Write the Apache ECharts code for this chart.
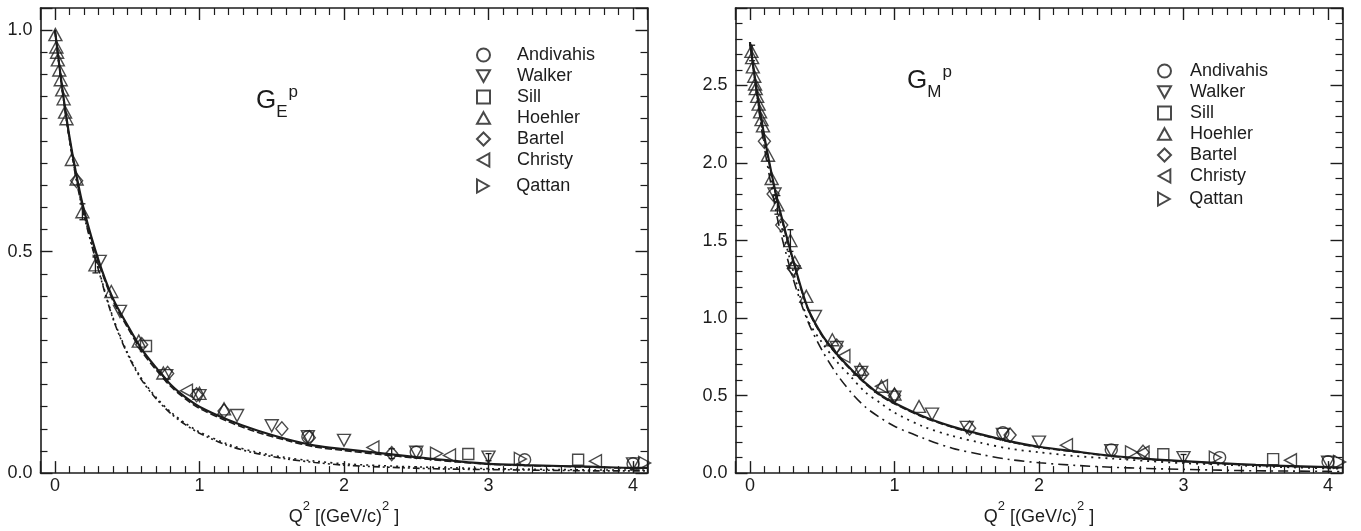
<!DOCTYPE html>
<html><head><meta charset="utf-8">
<script src="https://cdn.jsdelivr.net/npm/echarts@6/dist/echarts.min.js"></script>
<style>html,body{margin:0;padding:0;background:#fff}#c{width:1361px;height:531px}</style>
</head><body><div id="c"></div>
<script>
// ---------- data ----------
const seriesNames = ['Andivahis', 'Walker', 'Sill', 'Hoehler', 'Bartel', 'Christy', 'Qattan'];
const xTickLabels = ['0', '1', '2', '3', '4'];

// G_E^p data  [Q2, value]
const geAndivahis = [[1.75,0.082],[2.5,0.047],[3.25,0.030],[4.0,0.021]];
const geWalker = [[0.31,0.478],[0.45,0.365],[0.77,0.220],[1.0,0.175],[1.26,0.130],[1.5,0.107],[1.75,0.082],[2.0,0.074],[2.5,0.047],[3.0,0.036],[4.0,0.021]];
const geSill = [[0.63,0.287],[2.86,0.043],[3.62,0.030]];
const geHoehler = [[0.003,0.99],[0.01,0.962],[0.015,0.95],[0.02,0.933],[0.03,0.91],[0.04,0.888],[0.05,0.865],[0.06,0.845],[0.07,0.815],[0.08,0.80],[0.117,0.708],[0.15,0.664],[0.19,0.59],[0.28,0.47],[0.39,0.41],[0.58,0.298],[0.75,0.226],[1.0,0.180],[1.17,0.145]];
const geBartel = [[0.15,0.66],[0.6,0.29],[0.78,0.225],[0.98,0.177],[1.17,0.140],[1.57,0.100],[1.76,0.080],[2.33,0.044]];
const geChristy = [[0.91,0.186],[2.2,0.058],[2.73,0.040],[3.74,0.027]];
const geQattan = [[2.64,0.044],[3.22,0.032],[4.08,0.023]];
// visible error bars [Q2, low, high]
const geErrors = [[0.19,0.572,0.608],[0.28,0.452,0.488],[2.33,0.033,0.055],[3.0,0.028,0.044]];

// G_M^p data  [Q2, value]
const gmAndivahis = [[1.75,0.260],[2.5,0.150],[3.25,0.100],[4.0,0.073]];
const gmWalker = [[0.17,1.80],[0.30,1.30],[0.45,1.01],[0.60,0.81],[0.77,0.65],[1.0,0.49],[1.26,0.38],[1.5,0.295],[1.75,0.25],[2.0,0.20],[2.5,0.145],[3.0,0.10],[4.0,0.070]];
const gmSill = [[2.86,0.122],[3.62,0.090]];
const gmHoehler = [[0.01,2.72],[0.015,2.68],[0.02,2.62],[0.03,2.56],[0.035,2.51],[0.04,2.48],[0.05,2.43],[0.06,2.38],[0.07,2.33],[0.08,2.28],[0.09,2.24],[0.125,2.05],[0.15,1.90],[0.19,1.73],[0.28,1.50],[0.31,1.36],[0.39,1.14],[0.57,0.86],[0.76,0.67],[0.91,0.56],[1.0,0.51],[1.17,0.43]];
const gmBartel = [[0.10,2.14],[0.16,1.80],[0.22,1.60],[0.30,1.32],[0.60,0.82],[0.78,0.64],[1.0,0.50],[1.52,0.29],[1.80,0.245],[2.72,0.135]];
const gmChristy = [[0.65,0.755],[0.91,0.56],[2.19,0.18],[2.72,0.133],[3.74,0.083]];
const gmQattan = [[2.64,0.134],[3.22,0.100],[4.08,0.072]];
const gmErrors = [[0.015,2.66,2.76],[0.19,1.67,1.79],[0.28,1.43,1.57],[3.0,0.08,0.12]];

// model curves sampled at curveQ2
const curveQ2 = [0,0.05,0.1,0.15,0.2,0.3,0.4,0.5,0.6,0.7,0.8,0.9,1.0,1.2,1.4,1.6,1.8,2.0,2.25,2.5,2.75,3.0,3.25,3.5,3.75,4.0,4.1];
const geSolid   = [1.0,0.87,0.76,0.67,0.595,0.482,0.395,0.335,0.28,0.238,0.20,0.172,0.150,0.120,0.096,0.077,0.062,0.054,0.045,0.036,0.028,0.021,0.018,0.016,0.014,0.012,0.012];
const geDashed  = [1.0,0.868,0.757,0.666,0.590,0.477,0.390,0.330,0.275,0.233,0.196,0.168,0.146,0.116,0.092,0.074,0.059,0.051,0.042,0.034,0.026,0.020,0.017,0.015,0.013,0.011,0.011];
const geDashDot = [1.0,0.866,0.753,0.658,0.582,0.460,0.350,0.270,0.210,0.168,0.135,0.110,0.090,0.062,0.044,0.032,0.024,0.018,0.014,0.011,0.009,0.008,0.007,0.006,0.005,0.005,0.005];
const geDotted  = [1.0,0.868,0.755,0.661,0.585,0.463,0.353,0.273,0.213,0.171,0.138,0.113,0.093,0.065,0.047,0.035,0.027,0.021,0.017,0.014,0.012,0.010,0.009,0.008,0.007,0.007,0.007];
const gmSolid   = [2.78,2.45,2.17,1.93,1.72,1.37,1.065,0.89,0.77,0.67,0.58,0.506,0.452,0.365,0.30,0.25,0.205,0.17,0.14,0.112,0.092,0.077,0.064,0.053,0.045,0.038,0.036];
const gmDashed  = [2.78,2.44,2.16,1.92,1.71,1.36,1.058,0.884,0.764,0.664,0.575,0.501,0.447,0.360,0.296,0.246,0.201,0.166,0.137,0.109,0.089,0.074,0.062,0.051,0.043,0.036,0.034];
const gmDotted  = [2.78,2.43,2.13,1.88,1.66,1.30,0.99,0.84,0.72,0.62,0.52,0.454,0.39,0.30,0.24,0.195,0.157,0.135,0.11,0.094,0.078,0.064,0.055,0.045,0.037,0.030,0.029];
const gmDashDot = [2.78,2.42,2.10,1.84,1.60,1.25,0.98,0.79,0.64,0.52,0.425,0.358,0.302,0.225,0.16,0.12,0.087,0.067,0.05,0.038,0.030,0.024,0.019,0.015,0.013,0.011,0.010];

// ---------- styling ----------
const FONT = '"Liberation Sans", Arial, Helvetica, sans-serif';
const INK = '#1c1c1c';
const symbols = {
  Andivahis: 'circle',
  Walker: 'path://M0,0 L10,0 L5,9 Z',
  Sill: 'rect',
  Hoehler: 'path://M5,0 L10,9 L0,9 Z',
  Bartel: 'diamond',
  Christy: 'path://M9,0 L9,10 L0,5 Z',
  Qattan: 'path://M0,0 L0,10 L9,5 Z'
};
const symbolSizes = {Andivahis: 12, Walker: [13, 12], Sill: 11, Hoehler: [13, 12], Bartel: [12, 14], Christy: [12, 13], Qattan: [12, 13]};

const geData = {Andivahis: geAndivahis, Walker: geWalker, Sill: geSill, Hoehler: geHoehler, Bartel: geBartel, Christy: geChristy, Qattan: geQattan};
const gmData = {Andivahis: gmAndivahis, Walker: gmWalker, Sill: gmSill, Hoehler: gmHoehler, Bartel: gmBartel, Christy: gmChristy, Qattan: gmQattan};

function xAxisCfg(gridIndex, pos) {
  const bottom = pos === 'bottom';
  return {
    type: 'value', gridIndex: gridIndex, position: pos, min: -0.1, max: 4.1,
    minInterval: 1, maxInterval: 1,
    axisLine: {show: true, onZero: false, lineStyle: {color: INK, width: 1.6}},
    axisTick: {show: true, inside: true, length: 12, lineStyle: {color: INK, width: 1.4}},
    minorTick: {show: true, splitNumber: 10, length: 7, lineStyle: {color: INK, width: 1.2}},
    splitLine: {show: false}, minorSplitLine: {show: false},
    axisLabel: {show: bottom, margin: 4, fontSize: 18, color: INK, fontFamily: FONT,
      formatter: v => { const r = Math.round(v); return Math.abs(v - r) < 1e-6 && r >= 0 && r < xTickLabels.length ? xTickLabels[r] : ''; }},
    name: bottom ? '{b|Q}{s|2}{b| [(GeV/c)}{s|2}{b| ]}' : '',
    nameLocation: 'middle', nameGap: 22,
    nameTextStyle: {rich: {
      b: {fontSize: 18, fontFamily: FONT, color: INK, lineHeight: 26, verticalAlign: 'bottom'},
      s: {fontSize: 13, fontFamily: FONT, color: INK, lineHeight: 12, verticalAlign: 'top'}
    }}
  };
}
function yAxisCfg(gridIndex, pos, max, minorSplit) {
  const left = pos === 'left';
  return {
    type: 'value', gridIndex: gridIndex, position: pos, min: 0, max: max, interval: 0.5,
    axisLine: {show: true, onZero: false, lineStyle: {color: INK, width: 1.6}},
    axisTick: {show: true, inside: true, length: 12, lineStyle: {color: INK, width: 1.4}},
    minorTick: {show: true, splitNumber: minorSplit, length: 7, lineStyle: {color: INK, width: 1.2}},
    splitLine: {show: false}, minorSplitLine: {show: false},
    axisLabel: {show: left, margin: 8, fontSize: 18, color: INK, fontFamily: FONT,
      formatter: v => (Math.abs(v * 2 - Math.round(v * 2)) < 1e-6 && v < max - 0.01) ? v.toFixed(1) : ''}
  };
}

const series = [];
function errorSeries(errs, xi, yi) {
  return {
    type: 'custom', xAxisIndex: xi, yAxisIndex: yi, silent: true, z: 2,
    data: errs,
    renderItem: (params, api) => {
      const lo = api.coord([api.value(0), api.value(1)]);
      const hi = api.coord([api.value(0), api.value(2)]);
      const st = {stroke: INK, lineWidth: 1.3};
      return {type: 'group', children: [
        {type: 'line', shape: {x1: lo[0], y1: lo[1], x2: hi[0], y2: hi[1]}, style: st},
        {type: 'line', shape: {x1: lo[0] - 3, y1: lo[1], x2: lo[0] + 3, y2: lo[1]}, style: st},
        {type: 'line', shape: {x1: hi[0] - 3, y1: hi[1], x2: hi[0] + 3, y2: hi[1]}, style: st}
      ]};
    }
  };
}
function addPanel(dataMap, curves, errs, xi, yi) {
  curves.forEach(c => {
    series.push({
      type: 'line', xAxisIndex: xi, yAxisIndex: yi, showSymbol: false, symbol: 'none', smooth: 0.3,
      silent: true, z: 1,
      lineStyle: {color: INK, width: c.w, type: c.t},
      data: curveQ2.map((q, i) => [q, c.v[i]])
    });
  });
  series.push(errorSeries(errs, xi, yi));
  seriesNames.forEach(n => {
    series.push({
      name: n, type: 'scatter', xAxisIndex: xi, yAxisIndex: yi, z: 3,
      symbol: symbols[n], symbolSize: symbolSizes[n],
      itemStyle: {color: 'rgba(255,255,255,0)', borderColor: INK, borderWidth: 1.4},
      data: dataMap[n]
    });
  });
}
addPanel(geData, [
  {v: geSolid, w: 2.2, t: 'solid'},
  {v: geDashed, w: 1.6, t: [7, 3]},
  {v: geDashDot, w: 1.6, t: [7, 3, 2, 3, 2, 3]},
  {v: geDotted, w: 1.6, t: [2, 4]}
], geErrors, 0, 0);
addPanel(gmData, [
  {v: gmSolid, w: 2.2, t: 'solid'},
  {v: gmDashed, w: 1.6, t: [7, 3]},
  {v: gmDotted, w: 1.8, t: [2, 5]},
  {v: gmDashDot, w: 1.6, t: [10, 5, 2, 5]}
], gmErrors, 2, 2);

function legendCfg(names, left, top, textPad) {
  return {
    data: names, orient: 'vertical', left: left, top: top, selectedMode: false,
    itemWidth: 13, itemHeight: 13, itemGap: 3, padding: 0,
    textStyle: {fontSize: 18, fontFamily: FONT, color: INK, padding: [0, 0, 0, textPad]}
  };
}
function titleCfg(sub, left, top) {
  return {
    text: '{g|G}{sub|' + sub + '}{sup|p}', left: left, top: top, padding: 0,
    textStyle: {fontWeight: 'normal', rich: {
      g: {fontSize: 26, fontWeight: 'normal', fontFamily: FONT, color: INK, lineHeight: 40, verticalAlign: 'middle'},
      sub: {fontSize: 17, fontWeight: 'normal', fontFamily: FONT, color: INK, lineHeight: 16, verticalAlign: 'bottom'},
      sup: {fontSize: 17, fontWeight: 'normal', fontFamily: FONT, color: INK, lineHeight: 16, verticalAlign: 'top', padding: [3, 0, 0, 1]}
    }}
  };
}

const option = {
  animation: false,
  backgroundColor: '#fff',
  title: [titleCfg('E', 256, 81), titleCfg('M', 907, 61)],
  legend: [
    legendCfg(seriesNames.slice(0, 6), 476, 46, 22),
    legendCfg(['Qattan'], 476, 177, 22),
    legendCfg(seriesNames.slice(0, 6), 1157, 62, 14),
    legendCfg(['Qattan'], 1157, 190, 14)
  ],
  grid: [
    {left: 40.5, right: 713.5, top: 8, bottom: 55, show: false},
    {left: 735.5, right: 18.5, top: 8, bottom: 55, show: false}
  ],
  xAxis: [xAxisCfg(0, 'bottom'), xAxisCfg(0, 'top'), xAxisCfg(1, 'bottom'), xAxisCfg(1, 'top')],
  yAxis: [yAxisCfg(0, 'left', 1.05, 10), yAxisCfg(0, 'right', 1.05, 10), yAxisCfg(1, 'left', 3.0, 5), yAxisCfg(1, 'right', 3.0, 5)],
  series: series
};
const chart = echarts.init(document.getElementById('c'), null, {renderer: 'canvas'});
chart.setOption(option);
</script>
</body></html>
